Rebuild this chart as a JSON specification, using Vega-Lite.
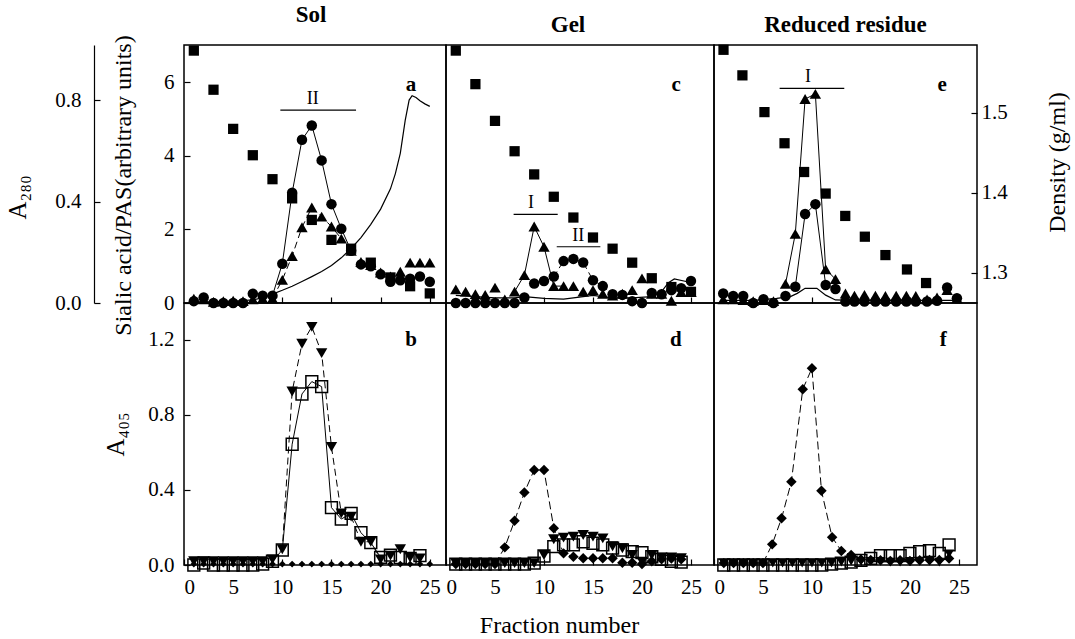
{
  "$schema": "https://vega.github.io/schema/vega-lite/v6.json",
  "padding": {"left": 5, "top": 3, "right": 5, "bottom": 5},
  "background": "white",
  "datasets": {
    "a_circ": [{"f":1,"v":0.05},{"f":2,"v":0.15},{"f":3,"v":0},{"f":4,"v":0},{"f":5,"v":0},{"f":6,"v":0},{"f":7,"v":0.25},{"f":8,"v":0.2},{"f":9,"v":0.2},{"f":10,"v":1.07},{"f":11,"v":3.0},{"f":12,"v":4.44},{"f":13,"v":4.83},{"f":14,"v":3.88},{"f":15,"v":2.69},{"f":16,"v":2.02},{"f":17,"v":1.42},{"f":18,"v":1.05},{"f":19,"v":1.0},{"f":20,"v":0.78},{"f":21,"v":0.58},{"f":22,"v":0.62},{"f":23,"v":0.66},{"f":24,"v":0.72},{"f":25,"v":0.58}],
    "a_tri": [{"f":1,"v":0.12},{"f":2,"v":0.1},{"f":3,"v":0.03},{"f":4,"v":0.05},{"f":5,"v":0.06},{"f":6,"v":0.05},{"f":7,"v":0.1},{"f":8,"v":0.12},{"f":9,"v":0.12},{"f":10,"v":0.63},{"f":11,"v":1.28},{"f":12,"v":2.06},{"f":13,"v":2.6},{"f":14,"v":2.35},{"f":15,"v":2.08},{"f":16,"v":1.75},{"f":17,"v":1.42},{"f":18,"v":1.12},{"f":19,"v":1.03},{"f":20,"v":0.83},{"f":21,"v":0.72},{"f":22,"v":0.85},{"f":23,"v":1.1},{"f":24,"v":1.1},{"f":25,"v":1.1}],
    "a_sq": [{"f":1,"d":1.578},{"f":3,"d":1.529},{"f":5,"d":1.48},{"f":7,"d":1.447},{"f":9,"d":1.417},{"f":11,"d":1.393},{"f":13,"d":1.366},{"f":15,"d":1.341},{"f":17,"d":1.33},{"f":19,"d":1.3125},{"f":21,"d":1.294},{"f":23,"d":1.283},{"f":25,"d":1.274}],
    "a_a280": [{"f":1,"a":0.005},{"f":3,"a":0.005},{"f":5,"a":0.007},{"f":7,"a":0.012},{"f":8,"a":0.02},{"f":9,"a":0.035},{"f":10,"a":0.05},{"f":11,"a":0.066},{"f":12,"a":0.085},{"f":13,"a":0.104},{"f":14,"a":0.124},{"f":15,"a":0.148},{"f":16,"a":0.178},{"f":17,"a":0.215},{"f":18,"a":0.258},{"f":19,"a":0.31},{"f":20,"a":0.37},{"f":21,"a":0.45},{"f":21.5,"a":0.51},{"f":22,"a":0.59},{"f":22.5,"a":0.72},{"f":22.9,"a":0.8},{"f":23.2,"a":0.817},{"f":23.6,"a":0.81},{"f":24,"a":0.797},{"f":24.5,"a":0.785},{"f":25,"a":0.775}],
    "b_tri": [{"f":1,"v":0.02},{"f":2,"v":0.02},{"f":3,"v":0.02},{"f":4,"v":0.02},{"f":5,"v":0.02},{"f":6,"v":0.02},{"f":7,"v":0.02},{"f":8,"v":0.02},{"f":9,"v":0.03},{"f":10,"v":0.084},{"f":11,"v":0.925},{"f":12,"v":1.18},{"f":13,"v":1.27},{"f":14,"v":1.13},{"f":15,"v":0.63},{"f":16,"v":0.275},{"f":17,"v":0.258},{"f":18,"v":0.124},{"f":19,"v":0.124},{"f":20,"v":0.03},{"f":21,"v":0.05},{"f":22,"v":0.084},{"f":23,"v":0.04},{"f":24,"v":0.035}],
    "b_sq": [{"f":1,"v":0},{"f":2,"v":0.01},{"f":3,"v":0},{"f":4,"v":0},{"f":5,"v":0},{"f":6,"v":0},{"f":7,"v":0},{"f":8,"v":0.005},{"f":9,"v":0.02},{"f":10,"v":0.08},{"f":11,"v":0.644},{"f":12,"v":0.912},{"f":13,"v":0.978},{"f":14,"v":0.951},{"f":15,"v":0.306},{"f":16,"v":0.245},{"f":17,"v":0.275},{"f":18,"v":0.172},{"f":19,"v":0.119},{"f":20,"v":0.041},{"f":21,"v":0.053},{"f":22,"v":0.04},{"f":23,"v":0.035},{"f":24,"v":0.05}],
    "b_dia": [{"f":1,"v":0.005},{"f":2,"v":0.005},{"f":3,"v":0.005},{"f":4,"v":0.005},{"f":5,"v":0.005},{"f":6,"v":0.005},{"f":7,"v":0.005},{"f":8,"v":0.005},{"f":9,"v":0.005},{"f":10,"v":0.005},{"f":11,"v":0.005},{"f":12,"v":0.005},{"f":13,"v":0.005},{"f":14,"v":0.005},{"f":15,"v":0.005},{"f":16,"v":0.005},{"f":17,"v":0.005},{"f":18,"v":0.005},{"f":19,"v":0.005},{"f":20,"v":0.005},{"f":21,"v":0.005},{"f":22,"v":0.005},{"f":23,"v":0.005},{"f":24,"v":0.005},{"f":25,"v":0.005}],
    "c_tri": [{"f":1,"v":0.37},{"f":2,"v":0.31},{"f":3,"v":0.24},{"f":4,"v":0.22},{"f":5,"v":0.42},{"f":6,"v":0.1},{"f":7,"v":0.31},{"f":8,"v":0.76},{"f":9,"v":2.08},{"f":10,"v":1.53},{"f":11,"v":0.46},{"f":12,"v":0.46},{"f":13,"v":0.46},{"f":14,"v":0.31},{"f":15,"v":0.35},{"f":16,"v":0.25},{"f":17,"v":0.2},{"f":18,"v":0.25},{"f":19,"v":0.35},{"f":20,"v":0.67},{"f":21,"v":0.25},{"f":22,"v":0.25},{"f":23,"v":0.06},{"f":24,"v":0.3},{"f":25,"v":0.3}],
    "c_circ": [{"f":1,"v":0},{"f":2,"v":0},{"f":3,"v":0},{"f":4,"v":0},{"f":5,"v":0},{"f":6,"v":0},{"f":7,"v":0},{"f":8,"v":0.15},{"f":9,"v":0.53},{"f":10,"v":0.6},{"f":11,"v":0.72},{"f":12,"v":1.14},{"f":13,"v":1.2},{"f":14,"v":1.1},{"f":15,"v":0.62},{"f":16,"v":0.46},{"f":17,"v":0.24},{"f":18,"v":0.22},{"f":19,"v":0.05},{"f":20,"v":0},{"f":21,"v":0.27},{"f":22,"v":0.24},{"f":23,"v":0.35},{"f":24,"v":0.4},{"f":25,"v":0.6}],
    "c_sq": [{"f":1,"d":1.578},{"f":3,"d":1.536},{"f":5,"d":1.49},{"f":7,"d":1.452},{"f":9,"d":1.423},{"f":11,"d":1.395},{"f":13,"d":1.369},{"f":15,"d":1.344},{"f":17,"d":1.33},{"f":19,"d":1.3125},{"f":21,"d":1.293},{"f":23,"d":1.282},{"f":25,"d":1.276}],
    "c_a280": [{"f":1,"a":0.03},{"f":3,"a":0.025},{"f":5,"a":0.02},{"f":7,"a":0.02},{"f":8,"a":0.025},{"f":10,"a":0.018},{"f":12,"a":0.015},{"f":14,"a":0.025},{"f":15,"a":0.03},{"f":17,"a":0.02},{"f":19,"a":0.02},{"f":21,"a":0.025},{"f":22,"a":0.045},{"f":22.7,"a":0.08},{"f":23.3,"a":0.095},{"f":24.5,"a":0.085},{"f":25,"a":0.07}],
    "d_dia": [{"f":1,"v":0.005},{"f":2,"v":0.005},{"f":3,"v":0.005},{"f":4,"v":0.005},{"f":5,"v":0.005},{"f":6,"v":0.094},{"f":7,"v":0.236},{"f":8,"v":0.387},{"f":9,"v":0.507},{"f":10,"v":0.507},{"f":11,"v":0.196},{"f":12,"v":0.062},{"f":13,"v":0.044},{"f":14,"v":0.036},{"f":15,"v":0.036},{"f":16,"v":0.036},{"f":17,"v":0.036},{"f":18,"v":0.012},{"f":19,"v":0.012},{"f":20,"v":0.005},{"f":21,"v":0.02},{"f":22,"v":0.03},{"f":23,"v":0.035},{"f":24,"v":0.03}],
    "d_tri": [{"f":1,"v":0.01},{"f":2,"v":0.01},{"f":3,"v":0.01},{"f":4,"v":0.01},{"f":5,"v":0.01},{"f":6,"v":0.01},{"f":7,"v":0.01},{"f":8,"v":0.01},{"f":9,"v":0.01},{"f":10,"v":0.053},{"f":11,"v":0.137},{"f":12,"v":0.146},{"f":13,"v":0.151},{"f":14,"v":0.16},{"f":15,"v":0.151},{"f":16,"v":0.142},{"f":17,"v":0.1},{"f":18,"v":0.089},{"f":19,"v":0.053},{"f":20,"v":0.018},{"f":21,"v":0.053},{"f":22,"v":0.04},{"f":23,"v":0.04},{"f":24,"v":0.036}],
    "d_sq": [{"f":1,"v":0.005},{"f":2,"v":0.005},{"f":3,"v":0.005},{"f":4,"v":0.005},{"f":5,"v":0.005},{"f":6,"v":0.005},{"f":7,"v":0.005},{"f":8,"v":0.005},{"f":9,"v":0.01},{"f":10,"v":0.048},{"f":11,"v":0.098},{"f":12,"v":0.107},{"f":13,"v":0.107},{"f":14,"v":0.124},{"f":15,"v":0.116},{"f":16,"v":0.107},{"f":17,"v":0.09},{"f":18,"v":0.08},{"f":19,"v":0.071},{"f":20,"v":0.066},{"f":21,"v":0.044},{"f":22,"v":0.03},{"f":23,"v":0.02},{"f":24,"v":0.015}],
    "e_tri": [{"f":0.94,"v":0.1},{"f":1.96,"v":0.1},{"f":2.98,"v":0.08},{"f":4.0,"v":0.05},{"f":5.05,"v":0.08},{"f":6.07,"v":0.05},{"f":7.3,"v":0.52},{"f":8.3,"v":1.88},{"f":9.3,"v":5.55},{"f":10.35,"v":5.69},{"f":11.4,"v":0.92},{"f":12.4,"v":0.65},{"f":13.42,"v":0.26},{"f":14.34,"v":0.2},{"f":15.36,"v":0.22},{"f":16.48,"v":0.2},{"f":17.5,"v":0.19},{"f":18.6,"v":0.2},{"f":19.64,"v":0.2},{"f":20.6,"v":0.19},{"f":21.75,"v":0.1},{"f":22.77,"v":0.15},{"f":23.8,"v":0.35},{"f":24.8,"v":0.13}],
    "e_circ": [{"f":0.94,"v":0.26},{"f":1.96,"v":0.19},{"f":2.98,"v":0.19},{"f":4.0,"v":0.0},{"f":5.05,"v":0.1},{"f":6.07,"v":0.0},{"f":7.3,"v":0.19},{"f":8.3,"v":0.44},{"f":9.3,"v":2.42},{"f":10.35,"v":2.69},{"f":11.4,"v":0.49},{"f":12.4,"v":0.38},{"f":13.42,"v":0.04},{"f":14.34,"v":0.04},{"f":15.36,"v":0.04},{"f":16.48,"v":0.04},{"f":17.5,"v":0.04},{"f":18.6,"v":0.04},{"f":19.64,"v":0.04},{"f":20.6,"v":0.04},{"f":21.75,"v":0.04},{"f":22.77,"v":0.06},{"f":23.8,"v":0.42},{"f":24.8,"v":0.13}],
    "e_sq": [{"f":0.97,"d":1.579},{"f":2.9,"d":1.547},{"f":5.15,"d":1.501},{"f":7.2,"d":1.462},{"f":9.2,"d":1.426},{"f":11.4,"d":1.399},{"f":13.4,"d":1.371},{"f":15.4,"d":1.345},{"f":17.5,"d":1.322},{"f":19.7,"d":1.304},{"f":21.65,"d":1.287}],
    "e_a280": [{"f":1,"a":0.01},{"f":4,"a":0.01},{"f":6.4,"a":0.018},{"f":7.8,"a":0.025},{"f":8.5,"a":0.038},{"f":9.3,"a":0.058},{"f":10.5,"a":0.058},{"f":11.4,"a":0.031},{"f":12.4,"a":0.012},{"f":14,"a":0.01},{"f":20,"a":0.01},{"f":25,"a":0.01}],
    "f_dia": [{"f":1,"v":0.01},{"f":2,"v":0.01},{"f":3,"v":0.01},{"f":4,"v":0.01},{"f":5,"v":0.01},{"f":5.94,"v":0.11},{"f":6.9,"v":0.249},{"f":7.9,"v":0.444},{"f":9.06,"v":0.937},{"f":10,"v":1.049},{"f":10.97,"v":0.396},{"f":12.06,"v":0.148},{"f":13,"v":0.075},{"f":14,"v":0.053},{"f":15,"v":0.03},{"f":16,"v":0.027},{"f":17,"v":0.025},{"f":18,"v":0.022},{"f":19,"v":0.025},{"f":20,"v":0.022},{"f":21,"v":0.025},{"f":22,"v":0.027},{"f":23,"v":0.027},{"f":24,"v":0.035}],
    "f_sq": [{"f":1,"v":0},{"f":2,"v":0},{"f":3,"v":0},{"f":4,"v":0},{"f":5,"v":0},{"f":6,"v":0},{"f":7,"v":0},{"f":8,"v":0},{"f":9,"v":0},{"f":10,"v":0},{"f":11,"v":0},{"f":12,"v":0.005},{"f":13,"v":0.01},{"f":14,"v":0.015},{"f":15,"v":0.025},{"f":16,"v":0.035},{"f":17,"v":0.05},{"f":18,"v":0.05},{"f":19,"v":0.05},{"f":20,"v":0.062},{"f":21,"v":0.071},{"f":22,"v":0.077},{"f":23,"v":0.062},{"f":24,"v":0.107}],
    "f_tri": [{"f":1,"v":0.01},{"f":2,"v":0.01},{"f":3,"v":0.01},{"f":4,"v":0.01},{"f":5,"v":0.01},{"f":6,"v":0.01},{"f":7,"v":0.01},{"f":8,"v":0.01},{"f":9,"v":0.01},{"f":10,"v":0.01},{"f":11,"v":0.01},{"f":12,"v":0.01},{"f":13,"v":0.015},{"f":14,"v":0.02},{"f":15,"v":0.02},{"f":16,"v":0.02},{"f":17,"v":0.02},{"f":18,"v":0.015},{"f":19,"v":0.015},{"f":20,"v":0.02},{"f":21,"v":0.02},{"f":22,"v":0.02},{"f":23,"v":0.015},{"f":24,"v":0.06}]
  },
  "columns": 3,
  "spacing": 0,
  "bounds": "flush",
  "align": "each",
  "concat": [
    {
      "width": 262, "height": 258,
      "title": {"text": "Sol", "dx": -4},
      "encoding": {"x": {"field": "f", "type": "quantitative", "scale": {"domain": [0, 26.65], "nice": false}, "axis": {"values": [5, 10, 15, 20, 25], "labels": false, "title": null}}},
      "layer": [
        {
          "data": {"name": "a_a280"},
          "mark": {"type": "line", "color": "black", "strokeWidth": 1.2},
          "encoding": {"y": {"field": "a", "type": "quantitative", "scale": {"domain": [0, 1.017], "nice": false}, "axis": {"orient": "left", "offset": 90, "values": [0, 0.4, 0.8], "format": ".1f", "title": "A₂₈₀", "titleFontSize": 25, "domain": true, "domainWidth": 1.2, "labelPadding": 19, "titlePadding": 24, "titleY": 152}}}
        },
        {
          "encoding": {"y": {"field": "v", "type": "quantitative", "scale": {"domain": [0, 7.02], "nice": false}, "axis": {"orient": "left", "values": [0, 2, 4, 6], "format": "d", "title": "Sialic acid/PAS(arbitrary units)", "titlePadding": 28, "titleY": 140}}},
          "layer": [
            {"data": {"name": "a_circ"}, "transform": [{"filter": "datum.f >= 9 && datum.f <= 17"}], "mark": {"type": "line", "color": "black", "strokeWidth": 1}},
            {"data": {"name": "a_tri"}, "transform": [{"filter": "datum.f >= 9 && datum.f <= 16"}], "mark": {"type": "line", "color": "black", "strokeWidth": 1, "strokeDash": [7, 4]}},
            {"data": {"name": "a_circ"}, "mark": {"type": "point", "shape": "circle", "filled": true, "color": "black", "opacity": 1, "size": 110}},
            {"data": {"name": "a_tri"}, "mark": {"type": "point", "shape": "triangle-up", "filled": true, "color": "black", "opacity": 1, "size": 130}},
            {"data": {"values": [{"f": 9.8, "f2": 17.5, "v": 5.25}]}, "mark": {"type": "rule", "color": "black", "strokeWidth": 1.2}, "encoding": {"x2": {"field": "f2"}}},
            {"data": {"values": [{"f": 13.1, "v": 5.3, "t": "II"}]}, "mark": {"type": "text", "fontSize": 18, "baseline": "bottom"}, "encoding": {"text": {"field": "t"}}},
            {"data": {"values": [{"f": 23.1, "v": 5.93, "t": "a"}]}, "mark": {"type": "text", "fontSize": 21, "fontWeight": "bold", "baseline": "middle"}, "encoding": {"text": {"field": "t"}}}
          ]
        },
        {
          "data": {"name": "a_sq"},
          "mark": {"type": "point", "shape": "square", "filled": true, "color": "black", "opacity": 1, "size": 105},
          "encoding": {"y": {"field": "d", "type": "quantitative", "scale": {"domain": [1.262, 1.585], "nice": false, "zero": false}, "axis": null}}
        }
      ],
      "resolve": {"scale": {"y": "independent"}}
    },
    {
      "width": 268, "height": 258,
      "title": {"text": "Gel", "dx": -12},
      "encoding": {"x": {"field": "f", "type": "quantitative", "scale": {"domain": [0, 27.35], "nice": false}, "axis": {"values": [5, 10, 15, 20, 25], "labels": false, "title": null}}},
      "layer": [
        {
          "data": {"name": "c_a280"},
          "mark": {"type": "line", "color": "black", "strokeWidth": 1.2},
          "encoding": {"y": {"field": "a", "type": "quantitative", "scale": {"domain": [0, 1.017], "nice": false}, "axis": null}}
        },
        {
          "encoding": {"y": {"field": "v", "type": "quantitative", "scale": {"domain": [0, 7.02], "nice": false}, "axis": null}},
          "layer": [
            {"data": {"name": "c_tri"}, "transform": [{"filter": "datum.f >= 7 && datum.f <= 12"}], "mark": {"type": "line", "color": "black", "strokeWidth": 1}},
            {"data": {"name": "c_circ"}, "transform": [{"filter": "datum.f >= 11 && datum.f <= 17"}], "mark": {"type": "line", "color": "black", "strokeWidth": 1, "strokeDash": [6, 4]}},
            {"data": {"name": "c_circ"}, "mark": {"type": "point", "shape": "circle", "filled": true, "color": "black", "opacity": 1, "size": 110}},
            {"data": {"name": "c_tri"}, "mark": {"type": "point", "shape": "triangle-up", "filled": true, "color": "black", "opacity": 1, "size": 130}},
            {"data": {"values": [{"f": 6.9, "f2": 11.4, "v": 2.41}, {"f": 11.3, "f2": 15.75, "v": 1.53}]}, "mark": {"type": "rule", "color": "black", "strokeWidth": 1.2}, "encoding": {"x2": {"field": "f2"}}},
            {"data": {"values": [{"f": 8.67, "v": 2.47, "t": "I"}, {"f": 13.5, "v": 1.59, "t": "II"}]}, "mark": {"type": "text", "fontSize": 18, "baseline": "bottom"}, "encoding": {"text": {"field": "t"}}},
            {"data": {"values": [{"f": 23.5, "v": 5.93, "t": "c"}]}, "mark": {"type": "text", "fontSize": 21, "fontWeight": "bold", "baseline": "middle"}, "encoding": {"text": {"field": "t"}}}
          ]
        },
        {
          "data": {"name": "c_sq"},
          "mark": {"type": "point", "shape": "square", "filled": true, "color": "black", "opacity": 1, "size": 105},
          "encoding": {"y": {"field": "d", "type": "quantitative", "scale": {"domain": [1.262, 1.585], "nice": false, "zero": false}, "axis": null}}
        }
      ],
      "resolve": {"scale": {"y": "independent"}}
    },
    {
      "width": 263, "height": 258,
      "title": {"text": "Reduced residue"},
      "encoding": {"x": {"field": "f", "type": "quantitative", "scale": {"domain": [0, 26.85], "nice": false}, "axis": {"values": [5, 10, 15, 20, 25], "labels": false, "title": null}}},
      "layer": [
        {
          "data": {"name": "e_a280"},
          "mark": {"type": "line", "color": "black", "strokeWidth": 1.2},
          "encoding": {"y": {"field": "a", "type": "quantitative", "scale": {"domain": [0, 1.017], "nice": false}, "axis": null}}
        },
        {
          "encoding": {"y": {"field": "v", "type": "quantitative", "scale": {"domain": [0, 7.02], "nice": false}, "axis": null}},
          "layer": [
            {"data": {"name": "e_tri"}, "transform": [{"filter": "datum.f >= 7 && datum.f <= 13"}], "mark": {"type": "line", "color": "black", "strokeWidth": 1}},
            {"data": {"name": "e_circ"}, "transform": [{"filter": "datum.f >= 7.5 && datum.f <= 12.5"}], "mark": {"type": "line", "color": "black", "strokeWidth": 1}},
            {"data": {"name": "e_circ"}, "mark": {"type": "point", "shape": "circle", "filled": true, "color": "black", "opacity": 1, "size": 110}},
            {"data": {"name": "e_tri"}, "mark": {"type": "point", "shape": "triangle-up", "filled": true, "color": "black", "opacity": 1, "size": 130}},
            {"data": {"values": [{"f": 6.7, "f2": 13.3, "v": 5.84}]}, "mark": {"type": "rule", "color": "black", "strokeWidth": 1.2}, "encoding": {"x2": {"field": "f2"}}},
            {"data": {"values": [{"f": 9.6, "v": 5.9, "t": "I"}]}, "mark": {"type": "text", "fontSize": 18, "baseline": "bottom"}, "encoding": {"text": {"field": "t"}}},
            {"data": {"values": [{"f": 23.3, "v": 5.93, "t": "e"}]}, "mark": {"type": "text", "fontSize": 21, "fontWeight": "bold", "baseline": "middle"}, "encoding": {"text": {"field": "t"}}}
          ]
        },
        {
          "data": {"name": "e_sq"},
          "mark": {"type": "point", "shape": "square", "filled": true, "color": "black", "opacity": 1, "size": 105},
          "encoding": {"y": {"field": "d", "type": "quantitative", "scale": {"domain": [1.262, 1.585], "nice": false, "zero": false}, "axis": {"orient": "right", "values": [1.3, 1.4, 1.5], "format": ".1f", "title": "Density (g/ml)", "titleAngle": 270, "labelPadding": 10, "titlePadding": 62, "titleY": 117}}}
        }
      ],
      "resolve": {"scale": {"y": "independent"}}
    },
    {
      "width": 262, "height": 262,
      "encoding": {
        "x": {"field": "f", "type": "quantitative", "scale": {"domain": [0, 26.65], "nice": false}, "axis": {"values": [0, 5, 10, 15, 20, 25], "title": null, "labelPadding": 17}},
        "y": {"field": "v", "type": "quantitative", "scale": {"domain": [0, 1.397], "nice": false}, "axis": {"values": [0, 0.4, 0.8, 1.2], "format": ".1f", "title": "A₄₀₅", "titleFontSize": 25, "titlePadding": 19}}
      },
      "layer": [
        {"data": {"name": "b_sq"}, "transform": [{"filter": "datum.f >= 9 && datum.f <= 20"}], "mark": {"type": "line", "color": "black", "strokeWidth": 1}},
        {"data": {"name": "b_tri"}, "transform": [{"filter": "datum.f >= 9 && datum.f <= 20"}], "mark": {"type": "line", "color": "black", "strokeWidth": 1, "strokeDash": [7, 4]}},
        {"data": {"name": "b_sq"}, "mark": {"type": "point", "shape": "square", "filled": false, "color": "black", "opacity": 1, "strokeWidth": 1.5, "size": 140}},
        {"data": {"name": "b_tri"}, "mark": {"type": "point", "shape": "triangle-down", "filled": true, "color": "black", "opacity": 1, "size": 130}},
        {"data": {"name": "b_dia"}, "mark": {"type": "point", "shape": "diamond", "filled": true, "color": "black", "opacity": 1, "size": 45}},
        {"data": {"values": [{"f": 23.1, "v": 1.2, "t": "b"}]}, "mark": {"type": "text", "fontSize": 21, "fontWeight": "bold", "baseline": "middle"}, "encoding": {"text": {"field": "t"}}}
      ]
    },
    {
      "width": 268, "height": 262,
      "encoding": {
        "x": {"field": "f", "type": "quantitative", "scale": {"domain": [0, 27.35], "nice": false}, "axis": {"values": [0, 5, 10, 15, 20, 25], "title": "Fraction number", "titlePadding": 16, "titleX": 113, "labelPadding": 17}},
        "y": {"field": "v", "type": "quantitative", "scale": {"domain": [0, 1.397], "nice": false}, "axis": null}
      },
      "layer": [
        {"data": {"name": "d_dia"}, "transform": [{"filter": "datum.f >= 5 && datum.f <= 13"}], "mark": {"type": "line", "color": "black", "strokeWidth": 1, "strokeDash": [8, 4]}},
        {"data": {"name": "d_sq"}, "mark": {"type": "point", "shape": "square", "filled": false, "color": "black", "opacity": 1, "strokeWidth": 1.5, "size": 140}},
        {"data": {"name": "d_tri"}, "mark": {"type": "point", "shape": "triangle-down", "filled": true, "color": "black", "opacity": 1, "size": 130}},
        {"data": {"name": "d_dia"}, "mark": {"type": "point", "shape": "diamond", "filled": true, "color": "black", "opacity": 1, "size": 110}},
        {"data": {"values": [{"f": 23.45, "v": 1.2, "t": "d"}]}, "mark": {"type": "text", "fontSize": 21, "fontWeight": "bold", "baseline": "middle"}, "encoding": {"text": {"field": "t"}}}
      ]
    },
    {
      "width": 263, "height": 262,
      "encoding": {
        "x": {"field": "f", "type": "quantitative", "scale": {"domain": [0, 26.85], "nice": false}, "axis": {"values": [0, 5, 10, 15, 20, 25], "title": null, "labelPadding": 17}},
        "y": {"field": "v", "type": "quantitative", "scale": {"domain": [0, 1.397], "nice": false}, "axis": null}
      },
      "layer": [
        {"data": {"name": "f_dia"}, "transform": [{"filter": "datum.f >= 5 && datum.f <= 14"}], "mark": {"type": "line", "color": "black", "strokeWidth": 1, "strokeDash": [8, 4]}},
        {"data": {"name": "f_sq"}, "mark": {"type": "point", "shape": "square", "filled": false, "color": "black", "opacity": 1, "strokeWidth": 1.5, "size": 140}},
        {"data": {"name": "f_tri"}, "mark": {"type": "point", "shape": "triangle-down", "filled": true, "color": "black", "opacity": 1, "size": 100}},
        {"data": {"name": "f_dia"}, "mark": {"type": "point", "shape": "diamond", "filled": true, "color": "black", "opacity": 1, "size": 110}},
        {"data": {"values": [{"f": 23.4, "v": 1.2, "t": "f"}]}, "mark": {"type": "text", "fontSize": 21, "fontWeight": "bold", "baseline": "middle"}, "encoding": {"text": {"field": "t"}}}
      ]
    }
  ],
  "config": {
    "view": {"stroke": "black", "strokeWidth": 1.5},
    "axis": {"grid": false, "domain": false, "labelFont": "Liberation Serif", "labelFontSize": 21, "labelColor": "black", "titleFont": "Liberation Serif", "titleFontSize": 24, "titleFontWeight": "normal", "titleColor": "black", "tickColor": "black", "tickSize": -6, "tickWidth": 1.2, "domainColor": "black", "labelPadding": 16},
    "title": {"font": "Liberation Serif", "fontSize": 23, "fontWeight": "bold", "color": "black", "offset": 8},
    "text": {"font": "Liberation Serif", "color": "black"}
  }
}
